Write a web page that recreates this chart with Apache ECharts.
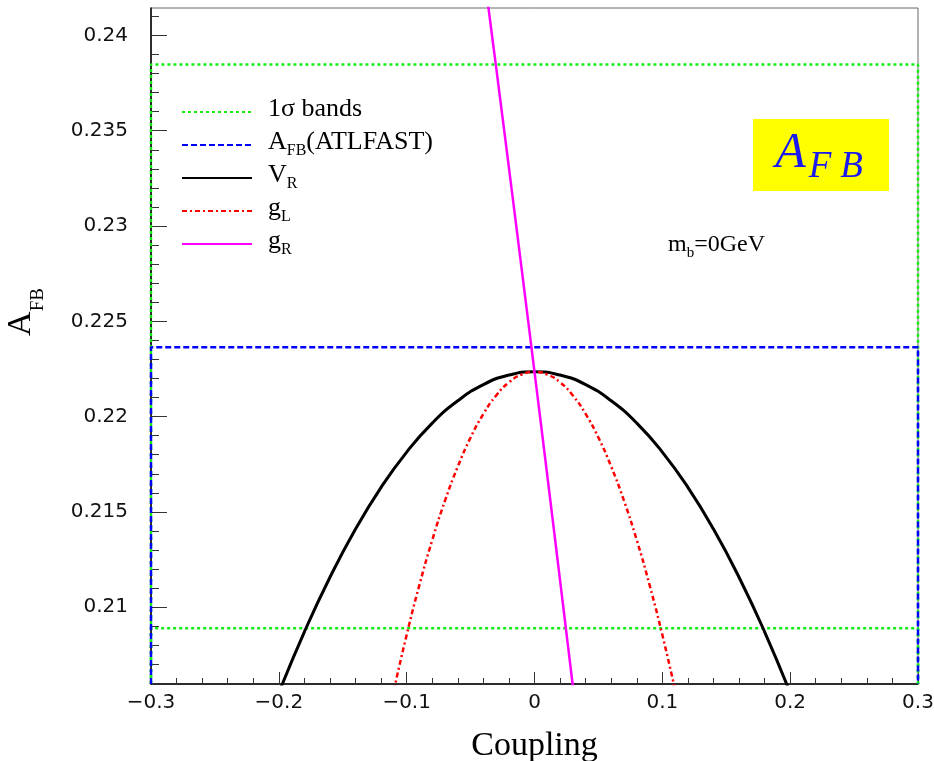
<!DOCTYPE html>
<html>
<head>
<meta charset="utf-8">
<script src="https://cdn.jsdelivr.net/npm/echarts@6/dist/echarts.min.js"></script>
<style>
  html, body { margin: 0; padding: 0; background: #fff; }
  #chart { width: 934px; height: 761px; }
</style>
</head>
<body>
<div id="chart"></div>
<script>
// Axis ranges
const xMin = -0.3, xMax = 0.3;
const yMin = 0.20597, yMax = 0.24144;

// Tick values on the A_FB axis
const yTickLabels = [0.21, 0.215, 0.22, 0.225, 0.23, 0.235, 0.24];
const yMinorTicks = [0.206, 0.207, 0.208, 0.209, 0.21, 0.211, 0.212, 0.213, 0.214, 0.215,
  0.216, 0.217, 0.218, 0.219, 0.22, 0.221, 0.222, 0.223, 0.224, 0.225, 0.226, 0.227, 0.228,
  0.229, 0.23, 0.231, 0.232, 0.233, 0.234, 0.235, 0.236, 0.237, 0.238, 0.239, 0.24, 0.241];

// Horizontal reference levels
const bandEdges = [-0.3, 0.3];
const bandHigh = 0.23848;
const bandLow = 0.2089;
const atlfastAfb = 0.22364;

// A_FB versus anomalous coupling V_R
const vrCoupling = [-0.20, -0.18, -0.16, -0.14, -0.12, -0.10, -0.08, -0.06, -0.04, -0.02, 0,
  0.02, 0.04, 0.06, 0.08, 0.10, 0.12, 0.14, 0.16, 0.18, 0.20];
const vrAfb = [0.20551, 0.20871, 0.21157, 0.21410, 0.21629, 0.21814, 0.21966, 0.22083, 0.22168,
  0.22218, 0.22235, 0.22218, 0.22168, 0.22083, 0.21966, 0.21814, 0.21629, 0.21410, 0.21157,
  0.20871, 0.20551];

// A_FB versus g_L
const glCoupling = [-0.11, -0.10, -0.09, -0.08, -0.07, -0.06, -0.05, -0.04, -0.03, -0.02, -0.01, 0,
  0.01, 0.02, 0.03, 0.04, 0.05, 0.06, 0.07, 0.08, 0.09, 0.10, 0.11];
const glAfb = [0.20565, 0.20855, 0.21117, 0.21352, 0.21559, 0.21738, 0.21890, 0.22014, 0.22111,
  0.22180, 0.22221, 0.22235, 0.22221, 0.22180, 0.22111, 0.22014, 0.21890, 0.21738, 0.21559,
  0.21352, 0.21117, 0.20855, 0.20565];

// A_FB versus g_R
const grCoupling = [-0.04, -0.03, -0.02, -0.01, 0, 0.01, 0.02, 0.03];
const grAfb = [0.24352, 0.23832, 0.23305, 0.22773, 0.22235, 0.21691, 0.21141, 0.20586];

const serif = '"Liberation Serif", "Times New Roman", serif';
const sans = '"DejaVu Sans", sans-serif';

function pairs(xs, ys) { return xs.map((x, i) => [x, ys[i]]); }
function bandOutline(level) {
  return [[bandEdges[0], yMin], [bandEdges[0], level], [bandEdges[1], level], [bandEdges[1], yMin]];
}

const legendNames = ['1σ bands', 'A_FB(ATLFAST)', 'V_R', 'g_L', 'g_R'];
const legendLabels = {
  '1σ bands': '{n|1σ bands}',
  'A_FB(ATLFAST)': '{n|A}{s|FB}{n|(ATLFAST)}',
  'V_R': '{n|V}{s|R}',
  'g_L': '{n|g}{s|L}',
  'g_R': '{n|g}{s|R}'
};

function curve(name, data, color, width, type, smooth) {
  return {
    name: name, type: 'line', data: data, symbol: 'none', smooth: smooth,
    lineStyle: { color: color, width: width, type: type },
    itemStyle: { color: color },
    silent: true, animation: false
  };
}

const chart = echarts.init(document.getElementById('chart'));
chart.setOption({
  animation: false,
  backgroundColor: '#fff',
  grid: { left: 151, right: 16, top: 8, bottom: 77, show: true, borderColor: '#666', borderWidth: 1,
    containLabel: false, outerBoundsMode: 'none' },
  xAxis: {
    type: 'value', min: xMin, max: xMax, interval: 0.1,
    axisLine: { show: true, onZero: false, lineStyle: { color: '#000', width: 1.5 } },
    axisTick: { show: true, inside: true, length: 12, lineStyle: { color: '#333', width: 1 } },
    minorTick: { show: true, splitNumber: 5, length: 6, lineStyle: { color: '#333', width: 1 } },
    splitLine: { show: false },
    minorSplitLine: { show: false },
    axisLabel: {
      margin: 9, fontFamily: sans, fontSize: 20, color: '#111',
      formatter: function (v) {
        const r = Math.round(v * 10) / 10;
        return r < 0 ? '\u2212' + (-r) : String(r);
      }
    },
    name: 'Coupling', nameLocation: 'middle', nameGap: 45,
    nameTextStyle: { fontFamily: serif, fontSize: 34, color: '#000' }
  },
  yAxis: [{
    type: 'value', min: yMin, max: yMax,
    axisLine: { show: true, onZero: false, lineStyle: { color: '#000', width: 1.5 } },
    axisTick: { show: true, inside: true, length: 16, customValues: yTickLabels, lineStyle: { color: '#333', width: 1 } },
    axisLabel: { customValues: yTickLabels, margin: 23, fontFamily: sans, fontSize: 20, color: '#111',
      formatter: function (v) { return String(v); } },
    splitLine: { show: false }
  }, {
    type: 'value', min: yMin, max: yMax, position: 'left',
    axisLine: { show: false, onZero: false },
    axisLabel: { show: false },
    splitLine: { show: false },
    axisTick: { show: true, inside: true, length: 8, customValues: yMinorTicks, lineStyle: { color: '#333', width: 1 } }
  }],
  legend: {
    orient: 'vertical', left: 181, top: 96, padding: 0,
    itemWidth: 70, itemHeight: 14, itemGap: 3,
    selectedMode: false,
    data: legendNames,
    itemStyle: { color: 'rgba(0,0,0,0)', borderWidth: 0, opacity: 0 },
    formatter: function (n) { return legendLabels[n]; },
    textStyle: {
      padding: [0, 0, 0, 11],
      rich: {
        n: { fontFamily: serif, fontSize: 26, lineHeight: 28, color: '#000', verticalAlign: 'bottom', padding: [0, 0, 4, 0] },
        s: { fontFamily: serif, fontSize: 16, lineHeight: 18, color: '#000', verticalAlign: 'bottom' }
      }
    }
  },
  series: [
    curve('1σ bands', bandOutline(bandHigh), '#10ee10', 2.5, [3, 3], false),
    curve('1σ bands', bandOutline(bandLow), '#10ee10', 2.5, [3, 3], false),
    curve('A_FB(ATLFAST)', bandOutline(atlfastAfb), '#0000ff', 2.5, [6, 3], false),
    curve('V_R', pairs(vrCoupling, vrAfb), '#000000', 3, 'solid', true),
    curve('g_L', pairs(glCoupling, glAfb), '#ff0000', 2.5, [5, 3, 2, 3], true),
    curve('g_R', pairs(grCoupling, grAfb), '#ff00ff', 2.5, 'solid', true)
  ],
  graphic: [
    {
      type: 'text', x: 31, y: 312, rotation: Math.PI / 2, silent: true,
      style: {
        text: '{a|A}{s|FB}', align: 'center', verticalAlign: 'middle',
        rich: {
          a: { fontFamily: serif, fontSize: 34, lineHeight: 34, fill: '#000', verticalAlign: 'bottom', padding: [0, 0, 10, 0] },
          s: { fontFamily: serif, fontSize: 19, lineHeight: 19, fill: '#000', verticalAlign: 'bottom' }
        }
      }
    },
    {
      type: 'text', x: 668, y: 247, silent: true,
      style: {
        text: '{n|m}{s|b}{n|=0GeV}', align: 'left', verticalAlign: 'middle',
        rich: {
          n: { fontFamily: serif, fontSize: 24, lineHeight: 27, fill: '#000', verticalAlign: 'bottom', padding: [0, 0, 4, 0] },
          s: { fontFamily: serif, fontSize: 15, lineHeight: 17, fill: '#000', verticalAlign: 'bottom' }
        }
      }
    },
    {
      type: 'rect', silent: true,
      shape: { x: 753, y: 119, width: 136, height: 72 },
      style: { fill: '#ffff00' }
    },
    {
      type: 'text', x: 819, y: 161, silent: true,
      style: {
        text: '{a|A}{f|F}{b|B}', align: 'center', verticalAlign: 'middle',
        rich: {
          a: { fontFamily: serif, fontStyle: 'italic', fontSize: 50, lineHeight: 50, fill: '#1a1aee', verticalAlign: 'bottom', padding: [0, 3, 7, 0] },
          f: { fontFamily: serif, fontStyle: 'italic', fontSize: 37, lineHeight: 37, fill: '#1a1aee', verticalAlign: 'bottom' },
          b: { fontFamily: serif, fontStyle: 'italic', fontSize: 37, lineHeight: 37, fill: '#1a1aee', verticalAlign: 'bottom', padding: [0, 0, 0, 9] }
        }
      }
    }
  ]
});
</script>
</body>
</html>
